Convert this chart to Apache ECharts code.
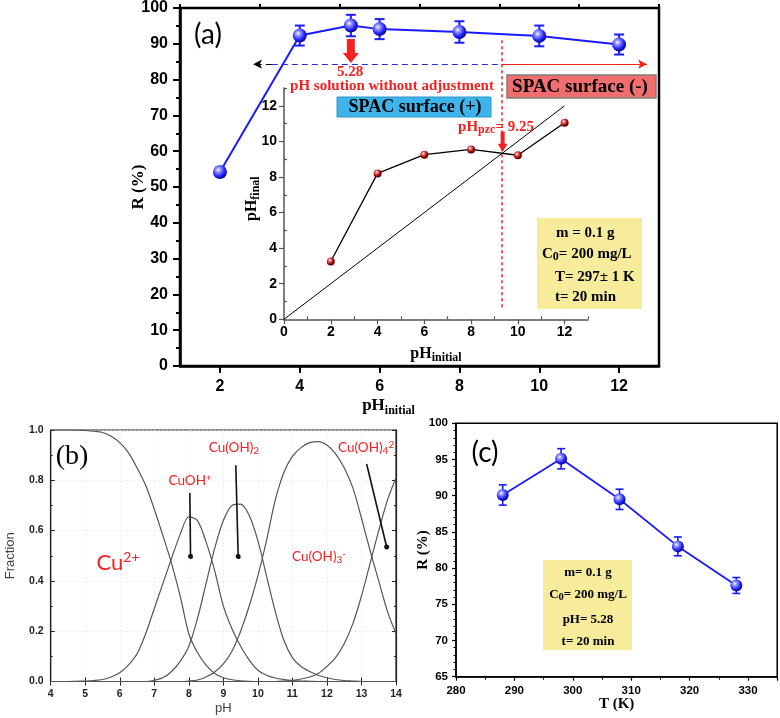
<!DOCTYPE html>
<html><head><meta charset="utf-8">
<script src="https://cdn.jsdelivr.net/npm/echarts@6/dist/echarts.min.js"></script>
<style>html,body{margin:0;padding:0;background:#fff}#c{width:780px;height:718px}</style>
</head><body><div id="c"></div>
<script>
// ---------- DATA ----------
// (a) removal vs initial pH
const aPH = [2, 4, 5.28, 6, 8, 10, 12];
const aR = [54.2, 92.3, 95.1, 94.1, 93.3, 92.2, 89.8];
const aErr = [1.2, 2.8, 3.0, 2.8, 3.0, 2.9, 2.8];
const aXTicks = [2, 4, 6, 8, 10, 12];
const aXMinor = [1, 3, 5, 7, 9, 11, 13];
// (a) inset: pH final vs pH initial
const insetPHi = [2, 4, 6, 8, 10, 12];
const insetPHf = [3.25, 8.2, 9.25, 9.55, 9.22, 11.05];
const diagX = [0, 12];
const insetTicks = [0, 2, 4, 6, 8, 10, 12];
const insetMinor = [1, 3, 5, 7, 9, 11, 13];
// (b) Cu speciation vs pH
const bPH = [4,4.25,4.5,4.75,5,5.25,5.5,5.75,6,6.25,6.5,6.75,7,7.25,7.5,7.75,8,8.25,8.5,8.75,9,9.25,9.5,9.75,10,10.25,10.5,10.75,11,11.25,11.5,11.75,12,12.25,12.5,12.75,13,13.25,13.5,13.75,14];
const bCu2 = [1,1,1,1,0.998,0.995,0.99,0.975,0.95,0.91,0.85,0.78,0.685,0.58,0.47,0.34,0.19,0.115,0.065,0.032,0.015,0.007,0.003,0.001,0,0,0,0,0,0,0,0,0,0,0,0,0,0,0,0,0];
const bCuOH = [0,0,0,0.001,0.002,0.004,0.008,0.018,0.035,0.065,0.11,0.19,0.29,0.39,0.49,0.585,0.655,0.64,0.555,0.44,0.30,0.21,0.14,0.085,0.045,0.025,0.014,0.008,0.004,0.002,0.001,0,0,0,0,0,0,0,0,0,0];
const bCuOH2 = [0,0,0,0,0,0,0,0,0,0,0,0,0.005,0.015,0.04,0.08,0.14,0.25,0.39,0.53,0.64,0.70,0.705,0.66,0.56,0.42,0.28,0.165,0.095,0.06,0.04,0.025,0.015,0.008,0.004,0.002,0,0,0,0,0];
const bCuOH3 = [0,0,0,0,0,0,0,0,0,0,0,0,0,0,0,0,0.002,0.006,0.018,0.038,0.07,0.12,0.2,0.3,0.42,0.56,0.72,0.83,0.895,0.93,0.95,0.954,0.94,0.905,0.85,0.77,0.65,0.52,0.40,0.28,0.19];
const bCuOH4 = [0,0,0,0,0,0,0,0,0,0,0,0,0,0,0,0,0,0,0,0,0,0,0,0,0,0,0,0.002,0.005,0.01,0.018,0.032,0.06,0.095,0.15,0.23,0.34,0.47,0.60,0.72,0.81];
// (c) removal vs temperature
const cT = [288, 298, 308, 318, 328];
const cR = [90.1, 95.1, 89.5, 83.0, 77.6];
const cErr = [1.4, 1.4, 1.4, 1.3, 1.1];

// ---------- STYLE ----------
const SERIF = '"Liberation Serif","Times New Roman",serif';
const SANS = '"Liberation Sans",Arial,sans-serif';
const CAL = 'Lato,"Open Sans",sans-serif';
const RED = '#f52020';
const BLUE = '#1a1aff';

function sphere(c0, c1, c2) {
  return {type:'radial', x:0.38, y:0.35, r:0.7, colorStops:[
    {offset:0,color:'#ffffff'},{offset:0.22,color:c0},{offset:0.65,color:c1},{offset:1,color:c2}]};
}
const blueSphere = sphere('#9c9cff', '#2424ff', '#00006a');
const redSphere = sphere('#e88080', '#a40000', '#3a0000');

function zip(a, b) { return a.map((v, i) => [v, b[i]]); }

function errSeries(xi, yi, xs, ys, es, cap, w, color) {
  return {
    type:'custom', xAxisIndex:xi, yAxisIndex:yi, z:3, silent:true,
    data: xs.map((x, i) => [x, ys[i] - es[i], ys[i] + es[i]]),
    encode:{x:0, y:[1,2]},
    renderItem: function (params, api) {
      const x = api.value(0), lo = api.value(1), hi = api.value(2);
      const p = api.coord([x, lo]), q = api.coord([x, hi]);
      const st = {stroke:color, lineWidth:w};
      return {type:'group', children:[
        {type:'line', shape:{x1:p[0],y1:p[1],x2:q[0],y2:q[1]}, style:st},
        {type:'line', shape:{x1:p[0]-cap,y1:p[1],x2:p[0]+cap,y2:p[1]}, style:st},
        {type:'line', shape:{x1:q[0]-cap,y1:q[1],x2:q[0]+cap,y2:q[1]}, style:st}
      ]};
    }
  };
}

const subRich = (fs, sfs, font, weight, color, lh) => ({
  a:{fontFamily:font, fontWeight:weight, fontSize:fs, color:color, fill:color, lineHeight:lh, verticalAlign:'middle'},
  s:{fontFamily:font, fontWeight:weight, fontSize:sfs, color:color, fill:color, lineHeight:lh, verticalAlign:'bottom'},
  p:{fontFamily:font, fontWeight:weight, fontSize:sfs, color:color, fill:color, lineHeight:lh, verticalAlign:'top'}
});

function txt(x, y, text, font, fill, align) {
  return {type:'text', x:x, y:y, z:20, style:{text:text, font:font, fill:fill,
    textAlign:align||'center', align:align||'center', textVerticalAlign:'middle', verticalAlign:'middle'}};
}
function rtxt(x, y, text, rich, align, fill) {
  return {type:'text', x:x, y:y, z:20, style:{text:text, rich:rich, fill:fill||'#000',
    textAlign:align||'center', align:align||'center', textVerticalAlign:'middle', verticalAlign:'middle'}};
}
function box(x, y, w, h, fill, stroke, lw) {
  return {type:'rect', z:15, shape:{x:x,y:y,width:w,height:h}, style:{fill:fill, stroke:stroke||null, lineWidth:lw||0}};
}

const arrowPath = 'path://M4,0 L12,0 L12,14 L16,14 L8,24 L0,14 L4,14 Z';
const arrowPathThin = 'path://M3,0 L7,0 L7,12 L10,12 L5,20 L0,12 L3,12 Z';

const noSplit = {show:false};

const option = {
  animation:false,
  backgroundColor:'#fff',
  grid:[
    {left:180, top:8, width:479, height:358, show:true, borderColor:'#000', borderWidth:2.5},
    {left:284, top:88, width:304, height:231.3},
    {left:50.7, top:430, width:345.3, height:251.5, show:true, borderColor:'#222', borderWidth:1.2},
    {left:456, top:423.3, width:321.2, height:253.4, show:true, borderColor:'#000', borderWidth:1.5}
  ],
  xAxis:[
    // 0 main (a)
    {type:'value', gridIndex:0, min:1, max:13, splitLine:noSplit,
     axisLine:{lineStyle:{color:'#000', width:2.5}},
     axisTick:{customValues:aXTicks, length:7, lineStyle:{width:2, color:'#000'}},
     axisLabel:{customValues:aXTicks, fontFamily:SANS, fontWeight:'bold', fontSize:16, color:'#000', margin:13},
     name:'{a|pH}{s|initial}', nameLocation:'middle', nameGap:29, nameMoveOverlap:false,
     nameTextStyle:{rich:subRich(17, 12, SERIF, 'bold', '#000', 22), padding:[0,62,0,0]}},
    // 1 main minor ticks
    {type:'value', gridIndex:0, min:1, max:13, splitLine:noSplit, axisLine:{show:false},
     axisTick:{customValues:aXMinor, length:4, lineStyle:{width:2, color:'#000'}},
     axisLabel:{show:false}},
    // 2 inset x
    {type:'value', gridIndex:1, min:0, max:13, splitLine:noSplit,
     axisLine:{lineStyle:{color:'#555', width:1.5}},
     axisTick:{customValues:insetTicks, length:5, lineStyle:{width:1.2, color:'#555'}},
     axisLabel:{customValues:insetTicks, fontFamily:SANS, fontWeight:'bold', fontSize:14, color:'#000', margin:6},
     name:'{a|pH}{s|initial}', nameLocation:'middle', nameGap:25, nameMoveOverlap:false,
     nameTextStyle:{rich:subRich(16, 12, SERIF, 'bold', '#000', 20)}},
    // 3 inset minor
    {type:'value', gridIndex:1, min:0, max:13, splitLine:noSplit, axisLine:{show:false},
     axisTick:{customValues:insetMinor, length:3, lineStyle:{width:1.2, color:'#555'}}, axisLabel:{show:false}},
    // 4 (b) bottom
    {type:'value', gridIndex:2, min:4, max:14, interval:1,
     splitLine:{show:true, lineStyle:{color:'#e4e4e4', type:[1,3], width:1}},
     axisLine:{lineStyle:{color:'#222', width:1.2}},
     axisTick:{inside:true, length:4, lineStyle:{color:'#222'}},
     axisLabel:{fontFamily:SANS, fontWeight:'bold', fontSize:10.5, color:'#222', margin:7},
     name:'pH', nameLocation:'middle', nameGap:20, nameMoveOverlap:false,
     nameTextStyle:{fontFamily:SANS, fontSize:13, color:'#444'}},
    // 5 (b) top
    {type:'value', gridIndex:2, position:'top', min:4, max:14, interval:1, splitLine:noSplit,
     axisLine:{lineStyle:{color:'#222', width:1.2}},
     axisTick:{inside:true, length:4, lineStyle:{color:'#222'}}, axisLabel:{show:false}},
    // 6 (c)
    {type:'value', gridIndex:3, min:280, max:335, interval:10, splitLine:noSplit,
     axisLine:{lineStyle:{color:'#000', width:1.5}},
     axisTick:{length:4, lineStyle:{width:1.2, color:'#000'}},
     minorTick:{show:true, splitNumber:2, length:3, lineStyle:{color:'#000', width:1}},
     axisLabel:{fontFamily:SANS, fontWeight:'bold', fontSize:11.5, color:'#000', margin:8, showMaxLabel:false},
     name:'T (K)', nameLocation:'middle', nameGap:20, nameMoveOverlap:false,
     nameTextStyle:{fontFamily:SERIF, fontWeight:'bold', fontSize:15, color:'#000'}}
  ],
  yAxis:[
    // 0 main (a)
    {type:'value', gridIndex:0, min:0, max:100, interval:10, splitLine:noSplit,
     axisLine:{lineStyle:{color:'#000', width:2.5}},
     axisTick:{length:7, lineStyle:{width:2, color:'#000'}},
     minorTick:{show:true, splitNumber:2, length:4, lineStyle:{width:2, color:'#000'}},
     axisLabel:{fontFamily:SANS, fontWeight:'bold', fontSize:16, color:'#000', margin:12},
     name:'R (%)', nameLocation:'middle', nameGap:33, nameMoveOverlap:false,
     nameTextStyle:{fontFamily:SERIF, fontWeight:'bold', fontSize:17, color:'#000'}},
    // 1 inset y
    {type:'value', gridIndex:1, min:0, max:13, splitLine:noSplit,
     axisLine:{lineStyle:{color:'#555', width:1.5}},
     axisTick:{customValues:insetTicks, length:5, lineStyle:{width:1.2, color:'#555'}},
     axisLabel:{customValues:insetTicks, fontFamily:SANS, fontWeight:'bold', fontSize:14, color:'#000', margin:7},
     name:'{a|pH}{s|final}', nameLocation:'middle', nameGap:22, nameMoveOverlap:false,
     nameTextStyle:{rich:subRich(16, 12, SERIF, 'bold', '#000', 20), padding:[0,0,0,10]}},
    // 2 inset minor
    {type:'value', gridIndex:1, min:0, max:13, splitLine:noSplit, axisLine:{show:false},
     axisTick:{customValues:insetMinor, length:3, lineStyle:{width:1.2, color:'#555'}}, axisLabel:{show:false}},
    // 3 (b) left
    {type:'value', gridIndex:2, min:0, max:1, interval:0.2,
     splitLine:{show:true, lineStyle:{color:'#e4e4e4', type:[1,3], width:1}},
     axisLine:{lineStyle:{color:'#222', width:1.2}},
     axisTick:{inside:true, length:4, lineStyle:{color:'#222'}},
     minorTick:{show:true, splitNumber:2, length:2, lineStyle:{color:'#222'}},
     axisLabel:{fontFamily:SANS, fontWeight:'bold', fontSize:10.5, color:'#222', margin:7,
       formatter:(v) => v.toFixed(1)},
     name:'Fraction', nameLocation:'middle', nameGap:34, nameMoveOverlap:false,
     nameTextStyle:{fontFamily:SANS, fontSize:13, color:'#444'}},
    // 4 (b) right
    {type:'value', gridIndex:2, position:'right', min:0, max:1, interval:0.2, splitLine:noSplit,
     axisLine:{lineStyle:{color:'#222', width:1.2}},
     axisTick:{inside:true, length:4, lineStyle:{color:'#222'}},
     minorTick:{show:true, splitNumber:2, length:2, lineStyle:{color:'#222'}}, axisLabel:{show:false}},
    // 5 (c)
    {type:'value', gridIndex:3, min:65, max:100, interval:5, splitLine:noSplit,
     axisLine:{lineStyle:{color:'#000', width:1.5}},
     axisTick:{length:4, lineStyle:{width:1.2, color:'#000'}},
     minorTick:{show:true, splitNumber:5, length:2.5, lineStyle:{color:'#000', width:1}},
     axisLabel:{fontFamily:SANS, fontWeight:'bold', fontSize:11.5, color:'#000', margin:8},
     name:'R (%)', nameLocation:'middle', nameGap:25, nameMoveOverlap:false,
     nameTextStyle:{fontFamily:SERIF, fontWeight:'bold', fontSize:15, color:'#000'}}
  ],
  series:[
    errSeries(0, 0, aPH, aR, aErr, 5, 2, BLUE),
    {type:'line', xAxisIndex:0, yAxisIndex:0, z:5, data:zip(aPH, aR),
     symbol:'circle', symbolSize:14, itemStyle:{color:blueSphere, borderWidth:0},
     lineStyle:{color:BLUE, width:2},
     markLine:{silent:true, symbol:['none','none'], label:{show:false}, animation:false, data:[
       [{coord:[3.3,84.3], lineStyle:{color:'#2a2ad8', type:[6,4], width:1.2}}, {coord:[9.05,84.3]}],
       [{coord:[3.3,84.3], lineStyle:{color:'#000', type:[6,4], width:1.2}}, {coord:[2.83,84.3], symbol:'arrow', symbolSize:[7,9]}],
       [{coord:[9.05,84.3], lineStyle:{color:RED, type:'solid', width:1.2}}, {coord:[12.7,84.3], symbol:'arrow', symbolSize:[7,9]}],
       [{coord:[9.05,91], lineStyle:{color:RED, type:[3,3], width:1.5}}, {coord:[9.05,15.6]}]
     ]},
     markPoint:{silent:true, label:{show:false}, data:[
       {coord:[5.28,88.0], symbol:arrowPath, symbolSize:[16,24], itemStyle:{color:RED}}
     ]}},
    {type:'line', xAxisIndex:2, yAxisIndex:1, z:4, data:zip(diagX, diagX), symbol:'none',
     lineStyle:{color:'#000', width:1}},
    {type:'line', xAxisIndex:2, yAxisIndex:1, z:5, data:zip(insetPHi, insetPHf),
     symbol:'circle', symbolSize:8, itemStyle:{color:redSphere, borderWidth:0},
     lineStyle:{color:'#000', width:1.3},
     markPoint:{silent:true, label:{show:false}, data:[
       {coord:[9.35,9.98], symbol:arrowPathThin, symbolSize:[10,20], itemStyle:{color:RED}}
     ]}},
    {type:'line', xAxisIndex:4, yAxisIndex:3, data:zip(bPH, bCu2), symbol:'none', smooth:0.3,
     lineStyle:{color:'#555', width:1.2}},
    {type:'line', xAxisIndex:4, yAxisIndex:3, data:zip(bPH, bCuOH), symbol:'none', smooth:0.3,
     lineStyle:{color:'#555', width:1.2},
     markLine:{silent:true, symbol:['none','circle'], symbolSize:5, label:{show:false}, animation:false,
       lineStyle:{color:'#111', width:1.6, type:'solid'}, data:[
       [{coord:[8.03,0.75]}, {coord:[8.05,0.497]}],
       [{coord:[9.36,0.86]}, {coord:[9.43,0.497]}],
       [{coord:[13.15,0.865]}, {coord:[13.73,0.535]}]
     ]}},
    {type:'line', xAxisIndex:4, yAxisIndex:3, data:zip(bPH, bCuOH2), symbol:'none', smooth:0.3,
     lineStyle:{color:'#555', width:1.2}},
    {type:'line', xAxisIndex:4, yAxisIndex:3, data:zip(bPH, bCuOH3), symbol:'none', smooth:0.3,
     lineStyle:{color:'#555', width:1.2}},
    {type:'line', xAxisIndex:4, yAxisIndex:3, data:zip(bPH, bCuOH4), symbol:'none', smooth:0.3,
     lineStyle:{color:'#555', width:1.2}},
    errSeries(6, 5, cT, cR, cErr, 4, 1.6, BLUE),
    {type:'line', xAxisIndex:6, yAxisIndex:5, z:5, data:zip(cT, cR),
     symbol:'circle', symbolSize:12, itemStyle:{color:blueSphere, borderWidth:0},
     lineStyle:{color:BLUE, width:1.8}}
  ],
  graphic:[
    // (a) annotations
    txt(208, 35, '(a)', '28px ' + CAL, '#000'),
    txt(350, 72, '5.28', 'bold 15px ' + SERIF, RED),
    txt(392, 86, 'pH solution without adjustment', 'bold 15px ' + SERIF, RED),
    box(337, 97, 154, 20, '#3db5ec', '#2b96c8', 1),
    txt(415, 107.5, 'SPAC surface (+)', 'bold 18px ' + SERIF, '#000'),
    box(507, 75, 149, 23, '#f26d6d', '#7d7d7d', 1.5),
    txt(580, 87, 'SPAC surface (-)', 'bold 19px ' + SERIF, '#000'),
    rtxt(496, 127, '{a|pH}{s|pzc}{a|= 9.25}', subRich(15, 12, SERIF, 'bold', RED, 18), 'center', RED),
    box(537, 218, 105, 91, '#f6ec9c'),
    txt(556, 233, 'm = 0.1 g', 'bold 15px ' + SERIF, '#000', 'left'),
    rtxt(542, 254, '{a|C}{s|0}{a|= 200 mg/L}', subRich(15, 12, SERIF, 'bold', '#000', 18), 'left'),
    txt(555, 277, 'T= 297\u00b1 1 K', 'bold 15px ' + SERIF, '#000', 'left'),
    txt(555, 297, 't= 20 min', 'bold 15px ' + SERIF, '#000', 'left'),
    // (b) annotations
    txt(72, 457, '(b)', '28px ' + SERIF, '#000'),
    rtxt(190, 481, '{a|CuOH}{p|+}', subRich(13.5, 9.5, CAL, 'normal', RED, 16), 'center', RED),
    rtxt(118, 563, '{a|Cu}{p|2+}', subRich(22, 14, CAL, 'normal', RED, 26), 'center', RED),
    rtxt(234, 448, '{a|Cu(OH)}{s|2}', subRich(13.5, 10, CAL, 'normal', RED, 16), 'center', RED),
    rtxt(368, 448, '{a|Cu(OH)}{s|4}{p|2-}', subRich(13.5, 10, CAL, 'normal', RED, 16), 'center', RED),
    rtxt(319, 557, '{a|Cu(OH)}{s|3}{p|-}', subRich(13.5, 10, CAL, 'normal', RED, 16), 'center', RED),
    // (c) annotations
    txt(485, 453, '(c)', '28px ' + CAL, '#000'),
    box(543, 560, 89, 90, '#f6ec9c'),
    txt(588, 573, 'm= 0.1 g', 'bold 13px ' + SERIF, '#000'),
    rtxt(588, 595, '{a|C}{s|0}{a|= 200 mg/L}', subRich(13, 10.5, SERIF, 'bold', '#000', 16)),
    txt(588, 620, 'pH= 5.28', 'bold 13px ' + SERIF, '#000'),
    txt(588, 642, 't= 20 min', 'bold 13px ' + SERIF, '#000')
  ]
};

const chart = echarts.init(document.getElementById('c'), null, {renderer:'canvas'});
chart.setOption(option);
</script>
</body></html>
